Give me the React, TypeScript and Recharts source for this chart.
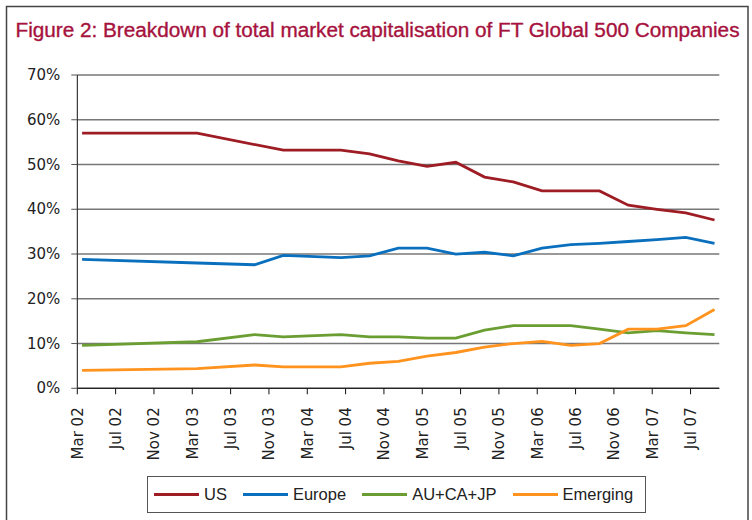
import React from 'react';
import { LineChart, Line, XAxis, YAxis, CartesianGrid } from 'recharts';

// months since Mar 02 for each quarterly observation
const months = [0.5, 3.5, 6.5, 9.5, 12.5, 15.5, 18.5, 21.5, 24.5, 27.5, 30.5, 33.5, 36.5, 39.5, 42.5, 45.5, 48.5, 51.5, 54.5, 57.5, 60.5, 63.5, 66.5];

const usValues = [57.0, null, null, null, 57.0, null, null, 53.2, null, 53.2, 52.4, 50.8, 49.6, 50.5, 47.2, 46.1, 44.1, null, 44.1, 40.9, 40.0, 39.2, 37.6];
const europeValues = [28.8, null, null, null, 28.0, null, 27.6, 29.7, null, 29.2, 29.6, 31.3, 31.3, 30.0, 30.4, 29.6, 31.3, 32.1, 32.4, 32.8, 33.2, 33.7, 32.4];
const aucajpValues = [9.6, null, null, null, 10.4, null, 12.0, 11.5, null, 12.0, 11.5, 11.5, 11.2, 11.2, 13.0, 14.0, 14.0, 14.0, 13.2, 12.4, 12.9, 12.4, 12.0];
const emergingValues = [4.0, null, null, null, 4.4, null, 5.2, 4.8, null, 4.8, 5.6, 6.0, 7.2, 8.0, 9.2, 10.0, 10.5, 9.6, 10.0, 13.2, 13.2, 14.0, 17.6];

const tickMonths = [0, 4, 8, 12, 16, 20, 24, 28, 32, 36, 40, 44, 48, 52, 56, 60, 64];
const tickLabels = ['Mar 02', 'Jul 02', 'Nov 02', 'Mar 03', 'Jul 03', 'Nov 03', 'Mar 04', 'Jul 04', 'Nov 04', 'Mar 05', 'Jul 05', 'Nov 05', 'Mar 06', 'Jul 06', 'Nov 06', 'Mar 07', 'Jul 07'];
const yTicks = [0, 10, 20, 30, 40, 50, 60, 70];

const series = [
  { key: 'us', name: 'US', color: '#9E1C24' },
  { key: 'europe', name: 'Europe', color: '#0A70BE' },
  { key: 'aucajp', name: 'AU+CA+JP', color: '#6B9E32' },
  { key: 'emerging', name: 'Emerging', color: '#FF931E' },
];

const data = months.map((m, i) => ({
  month: m,
  us: usValues[i],
  europe: europeValues[i],
  aucajp: aucajpValues[i],
  emerging: emergingValues[i],
}));

const titleFont = "'Liberation Sans', Arial, sans-serif";
const tickFont = "'DejaVu Sans', Verdana, sans-serif";

const XTick = ({ x, y, payload }: any) => {
  const label = tickLabels[tickMonths.indexOf(payload.value)];
  return (
    <text
      x={0}
      y={0}
      transform={`translate(${x + 5.5}, ${y + 11}) rotate(-90)`}
      textAnchor="end"
      fontSize={15}
      fontFamily={tickFont}
      fill="#222"
    >
      {label}
    </text>
  );
};

const YTick = ({ x, y, payload }: any) => (
  <text x={x} y={y} dy={5} textAnchor="end" fontSize={15} fontFamily={tickFont} fill="#222">
    {`${payload.value}%`}
  </text>
);

export default function App() {
  return (
    <div style={{ position: 'relative', width: 752, height: 520, background: '#fff', overflow: 'hidden' }}>
      <style>{`body { margin: 0; }`}</style>
      <svg width={752} height={520} style={{ position: 'absolute', left: 0, top: 0 }}>
        <rect x={6.5} y={6.5} width={741.5} height={530} fill="none" stroke="#444" strokeWidth={1.5} />
        <text
          x={15.5}
          y={37}
          fontSize={20}
          fontFamily={titleFont}
          fill="#A6123D"
          stroke="#A6123D"
          strokeWidth={0.35}
          textLength={724}
          lengthAdjust="spacingAndGlyphs"
        >
          Figure 2: Breakdown of total market capitalisation of FT Global 500 Companies
        </text>
      </svg>
      <div style={{ position: 'absolute', left: 0, top: 0 }}>
        <LineChart width={752} height={520} data={data} margin={{ top: 75, right: 32.7, left: 0, bottom: 0 }}>
          <CartesianGrid vertical={false} stroke="#777" strokeWidth={1.5} />
          <XAxis
            dataKey="month"
            type="number"
            domain={[0, 67]}
            ticks={tickMonths}
            interval={0}
            height={131.7}
            axisLine={{ stroke: '#111', strokeWidth: 1 }}
            tickLine={{ stroke: '#111' }}
            tickSize={6}
            tick={<XTick />}
          />
          <YAxis
            domain={[0, 70]}
            ticks={yTicks}
            width={77.3}
            axisLine={{ stroke: '#111', strokeWidth: 1 }}
            tickLine={{ stroke: '#555' }}
            tickSize={6}
            tickMargin={11}
            tick={<YTick />}
          />
          {series.map((s) => (
            <Line
              key={s.key}
              type="linear"
              dataKey={s.key}
              name={s.name}
              stroke={s.color}
              strokeWidth={2.8}
              dot={false}
              connectNulls
              isAnimationActive={false}
            />
          ))}
        </LineChart>
      </div>
      <div
        style={{
          position: 'absolute',
          left: 147,
          top: 476,
          width: 499,
          height: 37,
          border: '1px solid #555',
          display: 'flex',
          alignItems: 'center',
          paddingLeft: 6,
          boxSizing: 'border-box',
          fontFamily: titleFont,
          fontSize: 16.5,
          color: '#222',
        }}
      >
        {series.map((s) => (
          <div key={s.key} style={{ display: 'flex', alignItems: 'center', marginRight: 16 }}>
            <div style={{ width: 45, height: 3, background: s.color, marginRight: 5 }} />
            <span>{s.name}</span>
          </div>
        ))}
      </div>
    </div>
  );
}
